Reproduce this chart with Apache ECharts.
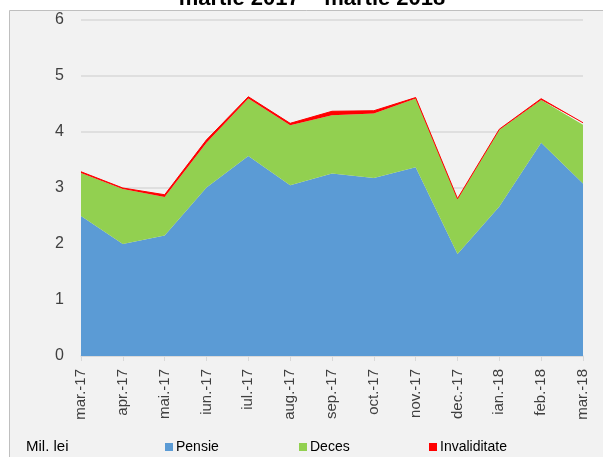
<!DOCTYPE html>
<html>
<head>
<meta charset="utf-8">
<script src="https://cdn.jsdelivr.net/npm/echarts@6/dist/echarts.min.js"></script>
<style>
html, body { margin: 0; padding: 0; background: #ffffff; }
#chart { width: 603px; height: 457px; }
</style>
</head>
<body>
<div id="chart"></div>
<script>
// luni
var months = ['mar.-17', 'apr.-17', 'mai.-17', 'iun.-17', 'iul.-17', 'aug.-17', 'sep.-17',
    'oct.-17', 'nov.-17', 'dec.-17', 'ian.-18', 'feb.-18', 'mar.-18'];
// valori, mil. lei
var pensie = [2.50, 2.00, 2.15, 3.01, 3.57, 3.05, 3.26, 3.18, 3.37, 1.82, 2.67, 3.81, 3.08];
var deces = [0.77, 0.98, 0.69, 0.80, 1.03, 1.07, 1.04, 1.15, 1.23, 0.98, 1.37, 0.76, 1.05];
var invaliditate = [0.02, 0.02, 0.04, 0.05, 0.03, 0.035, 0.07, 0.05, 0.015, 0.01, 0.01, 0.025, 0.035];
var yTicks = [0, 1, 2, 3, 4, 5, 6];

var font = '"Liberation Sans", Arial, sans-serif';

var chart = echarts.init(document.getElementById('chart'));
var option = {
    backgroundColor: '#ffffff',
    animation: false,
    graphic: [
        {
            type: 'rect',
            z: -10,
            shape: { x: 9.5, y: 10.5, width: 700, height: 500 },
            style: { fill: '#f2f2f2', stroke: '#bfbfbf', lineWidth: 1 }
        },
        {
            type: 'text',
            x: 312, y: 10,
            style: {
                text: 'martie 2017 \u2013 martie 2018',
                font: 'bold 22px ' + font,
                fill: '#000000',
                align: 'center',
                verticalAlign: 'bottom'
            }
        },
        {
            type: 'text',
            x: 26, y: 447,
            style: {
                text: 'Mil. lei',
                font: '15px ' + font,
                fill: '#000000',
                verticalAlign: 'middle'
            }
        }
    ],
    legend: [
        { data: ['Pensie'], left: 165, top: 440 },
        { data: ['Deces'], left: 299, top: 440 },
        { data: ['Invaliditate'], left: 429, top: 440 }
    ].map(function (l) {
        l.icon = 'rect';
        l.itemWidth = 8;
        l.itemHeight = 8;
        l.itemGap = 0;
        l.padding = 0;
        l.textStyle = { fontFamily: font, fontSize: 14, color: '#000000', padding: [0, 0, 0, -2] };
        return l;
    }),
    grid: { left: 81, right: 20, top: 20, bottom: 101 },
    xAxis: {
        type: 'category',
        boundaryGap: false,
        data: months,
        axisLine: { lineStyle: { color: '#d9d9d9', width: 1.5 } },
        axisTick: { show: true, length: 5, lineStyle: { color: '#d9d9d9' } },
        axisLabel: { rotate: 90, margin: 13, fontFamily: font, fontSize: 15, color: '#404040', interval: 0 }
    },
    yAxis: {
        type: 'value',
        min: yTicks[0],
        max: yTicks[yTicks.length - 1],
        interval: 1,
        axisLine: { show: false },
        axisTick: { show: false },
        axisLabel: { margin: 17, fontFamily: font, fontSize: 16, color: '#404040' },
        splitLine: { lineStyle: { color: '#d9d9d9', width: 1.5 } }
    },
    series: [
        {
            name: 'Pensie', type: 'line', stack: 'total', symbol: 'none',
            data: pensie,
            itemStyle: { color: '#5b9bd5' },
            lineStyle: { width: 0 },
            areaStyle: { color: '#5b9bd5', opacity: 1 }
        },
        {
            name: 'Deces', type: 'line', stack: 'total', symbol: 'none',
            data: deces,
            itemStyle: { color: '#92d050' },
            lineStyle: { width: 0 },
            areaStyle: { color: '#92d050', opacity: 1 }
        },
        {
            name: 'Invaliditate', type: 'line', stack: 'total', symbol: 'none',
            data: invaliditate,
            itemStyle: { color: '#ff0000' },
            lineStyle: { width: 1, color: '#ff0000' },
            areaStyle: { color: '#ff0000', opacity: 1 }
        }
    ]
};
chart.setOption(option);
</script>
</body>
</html>
